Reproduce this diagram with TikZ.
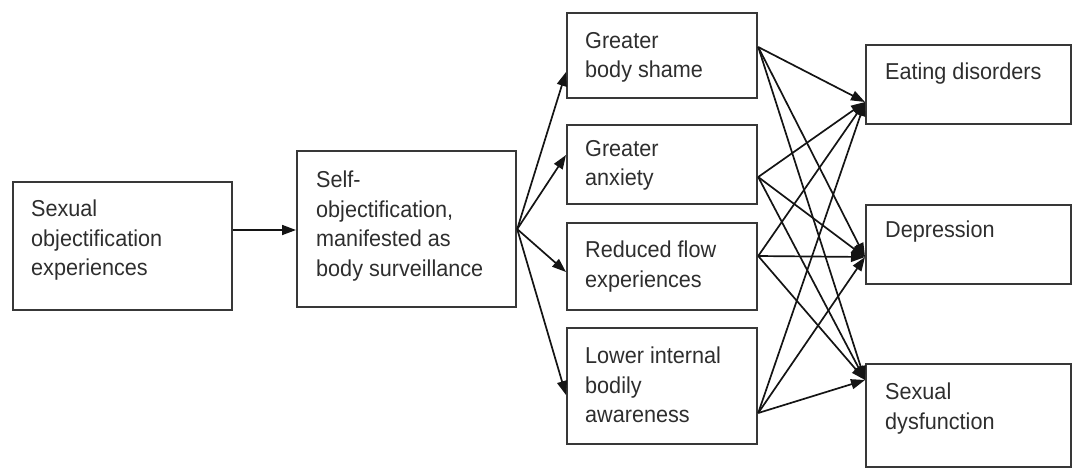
\documentclass[tikz,border=0pt]{standalone}
\usepackage{fontspec}
\setmainfont{Liberation Sans}[FakeStretch=0.94]
\usetikzlibrary{arrows.meta,calc}
\begin{document}
\begin{tikzpicture}[x=1pt,y=-1pt,
  box/.style={draw=black!78,line width=2.2pt,inner sep=0pt,anchor=north west},
  lbl/.style={inner sep=0pt,anchor=north west,align=left,font=\fontsize{23}{29.5}\selectfont,text=black!82},
  arr/.style={draw=black!92,line width=1.7pt,-{Triangle[length=14pt,width=10pt]}}]
\useasboundingbox (0,0) rectangle (1073,467);
% boxes
\node[box,minimum width=219pt,minimum height=128pt] (A) at (12,181) {};
\node[box,minimum width=219pt,minimum height=156pt] (B) at (296,150) {};
\node[box,minimum width=190pt,minimum height=85pt] (C1) at (566,12) {};
\node[box,minimum width=190pt,minimum height=79pt] (C2) at (566,124) {};
\node[box,minimum width=190pt,minimum height=87pt] (C3) at (566,222) {};
\node[box,minimum width=190pt,minimum height=116pt] (C4) at (566,327) {};
\node[box,minimum width=205pt,minimum height=79pt] (D1) at (865,44) {};
\node[box,minimum width=205pt,minimum height=79pt] (D2) at (865,204) {};
\node[box,minimum width=205pt,minimum height=103pt] (D3) at (865,363) {};
% labels
\node[lbl] (At) at (31,200) {Sexual\\objectification\\experiences};
\node[lbl] (Bt) at (316,171) {Self-\\objectification,\\manifested as\\body surveillance};
\node[lbl] (C1t) at (585,32) {Greater\\body shame};
\node[lbl] (C2t) at (585,140) {Greater\\anxiety};
\node[lbl] (C3t) at (585,241) {Reduced flow\\experiences};
\node[lbl] (C4t) at (585,347) {Lower internal\\bodily\\awareness};
\node[lbl] (D1t) at (885,63) {Eating disorders};
\node[lbl] (D2t) at (885,221) {Depression};
\node[lbl] (D3t) at (885,383) {Sexual\\dysfunction};
% ports
\coordinate (aout) at ($(A.north east)+(0,49)$);
\coordinate (bin) at ($(B.north west)+(0,80)$);
\coordinate (bout) at (B.east);
\coordinate (c1in) at ($(C1.north west)+(0,60)$);
\coordinate (c2in) at ($(C2.north west)+(0,31)$);
\coordinate (c3in) at ($(C3.north west)+(0,50)$);
\coordinate (c4in) at ($(C4.north west)+(0,68)$);
\coordinate (c1out) at ($(C1.north east)+(0,35)$);
\coordinate (c2out) at ($(C2.north east)+(0,53)$);
\coordinate (c3out) at ($(C3.north east)+(0,34)$);
\coordinate (c4out) at ($(C4.north east)+(0,86)$);
\coordinate (d1in) at ($(D1.north west)+(0,58)$);
\coordinate (d2in) at ($(D2.north west)+(0,53)$);
\coordinate (d3in) at ($(D3.north west)+(0,17)$);
% arrows
\draw[arr] (aout) -- (bin);
\foreach \c in {c1in,c2in,c3in,c4in} \draw[arr] (bout) -- (\c);
\foreach \s in {c1out,c2out,c3out,c4out}
  \foreach \t in {d1in,d2in,d3in} \draw[arr] (\s) -- (\t);
\end{tikzpicture}
\end{document}
